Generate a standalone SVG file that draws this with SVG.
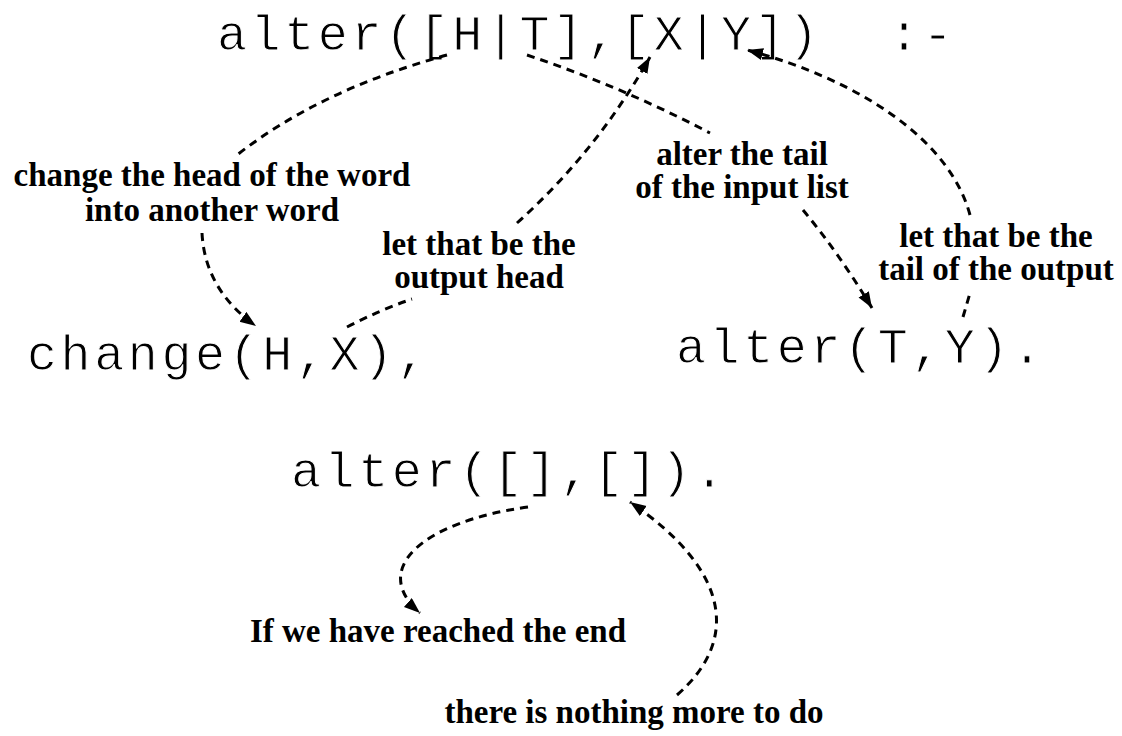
<svg xmlns="http://www.w3.org/2000/svg" width="1122" height="736" viewBox="0 0 1122 736">
<style>
.code{font-family:"Liberation Mono","Courier New",monospace;font-size:50px;letter-spacing:3.6px;fill:#000;stroke:#fff;stroke-width:1;white-space:pre}
.lbl{font-family:"Liberation Serif","Times New Roman",serif;font-size:33px;font-weight:bold;fill:#000;text-anchor:middle}
.c{fill:none;stroke:#000;stroke-width:3;stroke-dasharray:8 6}
</style>
<defs>
<marker id="ah" markerUnits="userSpaceOnUse" markerWidth="18" markerHeight="14" refX="16" refY="6" orient="auto">
<path d="M0,0 L16,6 L0,12 Z" fill="#000"/>
</marker>
</defs>
<rect width="1122" height="736" fill="#fff"/>
<g id="head"><text class="code" x="217" y="50" xml:space="preserve">alter([H|T],[X|Y])  :-</text></g>
<g id="change"><text class="code" x="27" y="370">change(H,X),</text></g>
<g id="recurse"><text class="code" x="676" y="363">alter(T,Y).</text></g>
<g id="base"><text class="code" x="291" y="487">alter([],[]).</text></g>
<g id="lbl-change"><text class="lbl" x="212" y="186">change the head of the word</text><text class="lbl" x="212" y="221">into another word</text></g>
<g id="lbl-outhead"><text class="lbl" x="479" y="255">let that be the</text><text class="lbl" x="479" y="288">output head</text></g>
<g id="lbl-tail"><text class="lbl" x="742" y="165">alter the tail</text><text class="lbl" x="742" y="198">of the input list</text></g>
<g id="lbl-outtail"><text class="lbl" x="996" y="247">let that be the</text><text class="lbl" x="996" y="280">tail of the output</text></g>
<g id="lbl-end"><text class="lbl" x="438" y="642">If we have reached the end</text></g>
<g id="lbl-nothing"><text class="lbl" x="634" y="723">there is nothing more to do</text></g>
<g id="connectors">
<path class="c" d="M447,55 Q320,90 237,155"/>
<path class="c" d="M202,233 Q205,290 256,326" marker-end="url(#ah)"/>
<path class="c" d="M347,327 Q380,310 412,299"/>
<path class="c" d="M517,223 Q597,151 650,57" marker-end="url(#ah)"/>
<path class="c" d="M527,55 Q620,86 710,133"/>
<path class="c" d="M803,210 Q838,252 872,308" marker-end="url(#ah)"/>
<path class="c" d="M963,317 L970,293"/>
<path class="c" d="M970,215 C950,140 860,80 747,50" marker-end="url(#ah)"/>
<path class="c" d="M528,507 C420,522 370,570 420,613" marker-end="url(#ah)"/>
<path class="c" d="M677,695 C740,640 730,570 630,502" marker-end="url(#ah)"/>
</g>
</svg>
